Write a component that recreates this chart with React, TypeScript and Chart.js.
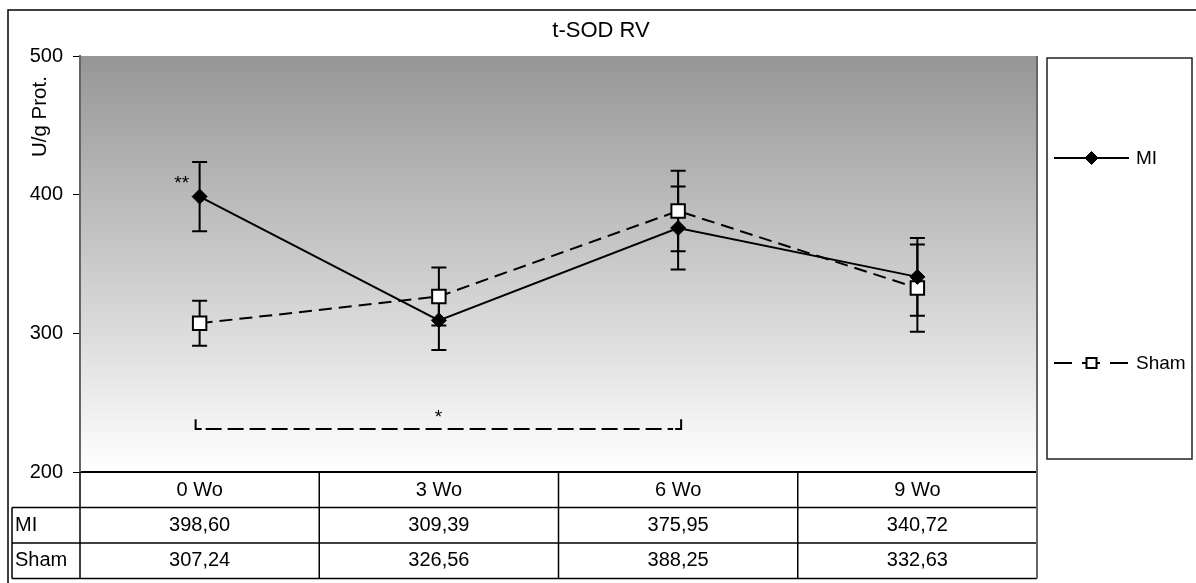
import React, { useEffect, useRef } from 'react';
import { Chart, registerables } from 'chart.js';

Chart.register(...registerables);

// ---- data ----
const categories = ['0 Wo', '3 Wo', '6 Wo', '9 Wo'];
const seriesNames = ['MI', 'Sham'];
const miValues = [398.6, 309.39, 375.95, 340.72];
const shamValues = [307.24, 326.56, 388.25, 332.63];
const miErrors = [25, 21.4, 30, 28];
const shamErrors = [16.2, 21, 29, 31.5];
const yMin = 200;
const yMax = 500;
const yStep = 100;
const chartTitle = 't-SOD RV';
const yAxisLabel = 'U/g Prot.';
// significance bracket between category indices, at a data value
const bracketFromIndex = 0;
const bracketToIndex = 2;
const bracketValue = 231;
const bracketTickValue = 238;
const bracketLabel = '*';
const bracketLabelValue = 235;
const pointMarkLabel = '**';
const pointMarkIndex = 0;
const pointMarkValue = 404;

const FONT = "'Liberation Sans', Arial, Helvetica, sans-serif";

const fmt = (v: number) => v.toFixed(2).replace('.', ',');

const decorPlugin = {
  id: 'decor',
  beforeDraw(chart: any) {
    const { ctx, chartArea, width, height } = chart;
    ctx.save();
    ctx.fillStyle = '#ffffff';
    ctx.fillRect(0, 0, width, height);
    const g = ctx.createLinearGradient(0, chartArea.top, 0, chartArea.bottom);
    g.addColorStop(0, '#969696');
    g.addColorStop(1, '#ffffff');
    ctx.fillStyle = g;
    ctx.fillRect(chartArea.left, chartArea.top, chartArea.right - chartArea.left, chartArea.bottom - chartArea.top);
    ctx.restore();
  },
  beforeDatasetsDraw(chart: any) {
    const { ctx } = chart;
    const xs = chart.scales.x;
    const ys = chart.scales.y;
    ctx.save();
    // error bars
    const errs = [miErrors, shamErrors];
    chart.data.datasets.forEach((ds: any, di: number) => {
      ds.data.forEach((v: number, i: number) => {
        const e = errs[di][i];
        const x = xs.getPixelForValue(i);
        const yTop = ys.getPixelForValue(v + e);
        const yBot = ys.getPixelForValue(v - e);
        ctx.strokeStyle = '#000';
        ctx.lineWidth = 2;
        ctx.setLineDash([]);
        ctx.beginPath();
        ctx.moveTo(x, yTop);
        ctx.lineTo(x, yBot);
        ctx.moveTo(x - 7.5, yTop);
        ctx.lineTo(x + 7.5, yTop);
        ctx.moveTo(x - 7.5, yBot);
        ctx.lineTo(x + 7.5, yBot);
        ctx.stroke();
      });
    });
    // significance bracket
    const bx1 = xs.getPixelForValue(bracketFromIndex) - 4;
    const bx2 = xs.getPixelForValue(bracketToIndex) + 3;
    const by = ys.getPixelForValue(bracketValue);
    const bt = ys.getPixelForValue(bracketTickValue);
    ctx.lineWidth = 2;
    ctx.beginPath();
    ctx.moveTo(bx1, bt);
    ctx.lineTo(bx1, by);
    ctx.lineTo(bx1 + 6, by);
    ctx.moveTo(bx2, bt);
    ctx.lineTo(bx2, by);
    ctx.lineTo(bx2 - 6, by);
    ctx.stroke();
    ctx.setLineDash([16, 6]);
    ctx.beginPath();
    ctx.moveTo(bx1 + 10, by);
    ctx.lineTo(bx2 - 8, by);
    ctx.stroke();
    ctx.setLineDash([]);
    ctx.fillStyle = '#000';
    ctx.font = `19px ${FONT}`;
    ctx.textAlign = 'center';
    ctx.textBaseline = 'alphabetic';
    ctx.fillText(bracketLabel, (bx1 + bx2) / 2, ys.getPixelForValue(bracketLabelValue));
    ctx.fillText(pointMarkLabel, xs.getPixelForValue(pointMarkIndex) - 18, ys.getPixelForValue(pointMarkValue));
    ctx.restore();
  },
  afterDraw(chart: any) {
    const { ctx, chartArea } = chart;
    const xs = chart.scales.x;
    ctx.save();
    // title
    ctx.font = `22px ${FONT}`;
    ctx.fillStyle = '#000';
    ctx.textAlign = 'center';
    ctx.textBaseline = 'middle';
    ctx.fillText(chartTitle, 601, 30.5);

    // y-axis label
    ctx.save();
    ctx.translate(45.5, 157);
    ctx.rotate(-Math.PI / 2);
    ctx.font = `20.5px ${FONT}`;
    ctx.fillStyle = '#000';
    ctx.textAlign = 'left';
    ctx.textBaseline = 'alphabetic';
    ctx.fillText(yAxisLabel, 0, 0);
    ctx.restore();

    // data table
    const left = chartArea.left;
    const right = chartArea.right;
    const top = chartArea.bottom;
    const rowH = 35.5;
    const labelLeft = 12;
    const r1 = top + rowH;
    const r2 = r1 + rowH;
    const r3 = r2 + rowH;
    ctx.strokeStyle = '#000';
    ctx.lineWidth = 1.5;
    ctx.beginPath();
    ctx.moveTo(labelLeft, r1);
    ctx.lineTo(right, r1);
    ctx.moveTo(labelLeft, r2);
    ctx.lineTo(right, r2);
    ctx.moveTo(labelLeft, r3);
    ctx.lineTo(right, r3);
    ctx.moveTo(labelLeft, r1);
    ctx.lineTo(labelLeft, r3);
    ctx.moveTo(left, top);
    ctx.lineTo(left, r3);
    for (let i = 0; i < categories.length - 1; i++) {
      const bx = (xs.getPixelForValue(i) + xs.getPixelForValue(i + 1)) / 2;
      ctx.moveTo(bx, top);
      ctx.lineTo(bx, r3);
    }
    ctx.stroke();
    ctx.strokeStyle = '#666';
    ctx.lineWidth = 2;
    ctx.beginPath();
    ctx.moveTo(right, chartArea.top);
    ctx.lineTo(right, r3);
    ctx.stroke();

    ctx.fillStyle = '#000';
    ctx.font = `20px ${FONT}`;
    ctx.textBaseline = 'middle';
    const rows = [miValues, shamValues];
    rows.forEach((vals, ri) => {
      const cy = top + rowH * (ri + 1.5);
      ctx.textAlign = 'left';
      ctx.fillText(seriesNames[ri], labelLeft + 3, cy);
      ctx.textAlign = 'center';
      vals.forEach((v, i) => {
        ctx.fillText(fmt(v), xs.getPixelForValue(i), cy);
      });
    });

    // legend box
    const lx1 = 1047, lx2 = 1192, ly1 = 58, ly2 = 459;
    ctx.strokeStyle = '#222';
    ctx.lineWidth = 1.5;
    ctx.strokeRect(lx1, ly1, lx2 - lx1, ly2 - ly1);
    const itemY = [158, 363];
    chart.data.datasets.forEach((ds: any, di: number) => {
      const y = itemY[di];
      ctx.strokeStyle = '#000';
      ctx.lineWidth = 2;
      ctx.setLineDash(ds.borderDash && ds.borderDash.length ? [18, 10] : []);
      ctx.beginPath();
      ctx.moveTo(1054, y);
      ctx.lineTo(1129, y);
      ctx.stroke();
      ctx.setLineDash([]);
      const cx = 1091.5;
      ctx.fillStyle = ds.pointBackgroundColor;
      ctx.strokeStyle = '#000';
      ctx.lineWidth = ds.pointBorderWidth;
      if (ds.pointStyle === 'rectRot') {
        ctx.beginPath();
        ctx.moveTo(cx, y - 6.5);
        ctx.lineTo(cx + 6.5, y);
        ctx.lineTo(cx, y + 6.5);
        ctx.lineTo(cx - 6.5, y);
        ctx.closePath();
        ctx.fill();
        ctx.stroke();
      } else {
        ctx.fillRect(cx - 5, y - 5, 10, 10);
        ctx.strokeRect(cx - 5, y - 5, 10, 10);
      }
      ctx.fillStyle = '#000';
      ctx.font = `19px ${FONT}`;
      ctx.textAlign = 'left';
      ctx.textBaseline = 'middle';
      ctx.fillText(ds.label, 1136, y + 1);
    });

    // outer frame
    ctx.strokeStyle = '#000';
    ctx.lineWidth = 1.5;
    ctx.beginPath();
    ctx.moveTo(8, 600);
    ctx.lineTo(8, 10);
    ctx.lineTo(1210, 10);
    ctx.stroke();
    ctx.restore();
  },
};

export default function App() {
  const canvasRef = useRef<HTMLCanvasElement | null>(null);

  useEffect(() => {
    const canvas = canvasRef.current;
    if (!canvas) return;
    const chart = new Chart(canvas, {
      type: 'line',
      data: {
        labels: categories,
        datasets: [
          {
            label: seriesNames[0],
            data: miValues,
            borderColor: '#000',
            backgroundColor: '#000',
            borderWidth: 2,
            pointStyle: 'rectRot',
            pointRadius: 7.5,
            pointBackgroundColor: '#000',
            pointBorderColor: '#000',
            pointBorderWidth: 1,
            tension: 0,
            fill: false,
          },
          {
            label: seriesNames[1],
            data: shamValues,
            borderColor: '#000',
            backgroundColor: '#fff',
            borderWidth: 2,
            borderDash: [13, 7],
            pointStyle: 'rect',
            pointRadius: 9.5,
            pointBackgroundColor: '#fff',
            pointBorderColor: '#000',
            pointBorderWidth: 2,
            tension: 0,
            fill: false,
          },
        ],
      },
      options: {
        responsive: false,
        animation: false,
        events: [],
        layout: { padding: { top: 56, left: 0, right: 159, bottom: 0 } },
        plugins: {
          legend: { display: false },
          tooltip: { enabled: false },
          title: { display: false },
        },
        scales: {
          x: {
            type: 'category',
            offset: true,
            grid: { display: false, drawTicks: false },
            border: { display: true, color: '#000', width: 2 },
            ticks: {
              color: '#000',
              padding: 6,
              font: { family: FONT, size: 20 },
              maxRotation: 0,
              autoSkip: false,
            },
            afterFit: (s: any) => {
              s.height = 111;
            },
          },
          y: {
            min: yMin,
            max: yMax,
            ticks: {
              stepSize: yStep,
              color: '#000',
              padding: 10,
              font: { family: FONT, size: 20 },
            },
            grid: {
              display: true,
              drawOnChartArea: false,
              drawTicks: true,
              tickLength: 7,
              color: '#000',
              lineWidth: 1,
            },
            border: { display: true, color: '#666', width: 2 },
            afterFit: (s: any) => {
              s.width = 80;
            },
          },
        },
      },
      plugins: [decorPlugin],
    });
    return () => chart.destroy();
  }, []);

  return (
    <div style={{ position: 'absolute', left: 0, top: 0, width: 1196, height: 583 }}>
      <canvas ref={canvasRef} width={1196} height={583} style={{ width: 1196, height: 583, display: 'block' }} />
    </div>
  );
}
